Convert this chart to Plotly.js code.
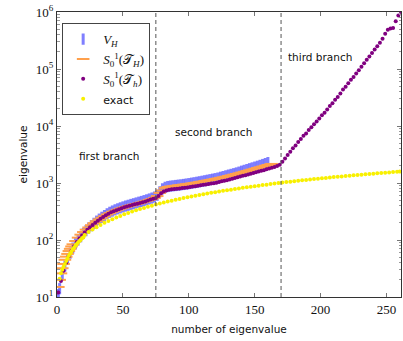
<!DOCTYPE html>
<html>
<head>
<meta charset="utf-8">
<script src="https://cdn.plot.ly/plotly-3.0.1.min.js"></script>
<style>
  html, body { margin: 0; padding: 0; background: #fff; }
  #plot { width: 403px; height: 341px; }
</style>
</head>
<body>
<div id="plot"></div>
<script>
// V_H (blue bars)
const vhN = [1,2,4,6,8,10,12,14,16,18,20,22,24,26,28,30,32,34,36,38,40,42,44,46,48,50,52,54,56,58,60,
  62,64,66,68,70,72,74,76,78,80,82,84,86,88,90,92,94,96,98,100,102,104,106,108,110,112,114,116,118,120,
  122,124,126,128,130,132,134,136,138,140,142,144,146,148,150,152,154,156,158,160];
const vhVal = [11,14,24,35,47,59,72,86,100,114,130,146,162,178,196,214,232,250,268,288,306,
  322,338,352,366,380,394,406,420,432,446,460,474,490,506,524,544,566,610,700,790,
  840,866,880,892,904,916,928,942,958,974,992,1010,1030,1050,1072,1094,1118,1142,1166,1192,
  1220,1260,1295,1335,1375,1415,1455,1500,1550,1610,1665,1720,1780,1840,1900,1965,2035,2110,2190,2280];

// S_0^1(T_H) (orange bars)
const sHN = [1,2,3,4,5,6,7,8,9,10,11,12,14,16,18,20,22,24,26,28,30,32,34,36,38,40,42,44,46,48,50,52,
  54,56,58,60,62,64,66,68,70,72,74,76,78,80,82,84,86,88,90,92,94,96,98,100,102,104,106,108,110,112,
  114,116,118,120,122,124,126,128,130,132,134,136,138,140,142,144,146,148,150,152,154,156,158,160,162,163];
const sHVal = [15,20,26,32,38,45,51,57,64,70,77,84,96,110,124,138,152,166,182,198,214,230,246,262,280,296,312,326,340,354,368,380,
  392,404,416,428,440,454,470,488,506,526,548,590,670,740,820,850,868,882,895,908,922,936,950,966,982,1000,1018,1038,1058,1080,
  1102,1126,1150,1176,1202,1230,1260,1292,1326,1362,1400,1440,1482,1526,1572,1620,1670,1722,1776,1832,1890,1950,2012,2075,2130,2160];

// S_0^1(T_h) (purple dots)
const shN = [1,3,5,7,9,11,13,15,17,19,21,23,25,27,29,31,33,35,37,39,41,43,45,47,49,51,53,55,57,59,
  61,63,65,67,69,71,73,75,77,79,81,83,85,87,89,91,93,95,97,99,101,103,105,107,109,111,113,115,117,119,
  121,123,125,127,129,131,133,135,137,139,141,143,145,147,149,151,153,155,157,159,161,163,165,167,169,
  171,173,175,177,179,181,183,185,187,189,191,193,195,197,199,201,203,205,207,209,211,213,215,217,219,
  221,223,225,227,229,231,233,235,237,239,241,243,245,247,249,251,253,255,257,259,261];
const shVal = [12,19,29,40,52,64,78,92,106,120,136,152,168,184,200,218,236,254,272,290,
  306,320,334,348,362,374,386,398,410,422,434,446,460,476,494,512,530,548,590,660,
  708,740,760,774,785,795,804,813,822,836,851,866,881,896,912,928,944,960,977,994,
  1012,1042,1072,1097,1122,1155,1189,1224,1259,1296,1334,1372,1413,1454,1496,1540,1585,1632,1679,1738,
  1799,1850,1905,1995,2089,2350,2690,3090,3550,4070,4570,5250,5890,6760,7410,8510,9550,10700,12000,13500,
  15500,17000,19500,22400,25100,28800,32400,37200,43700,49000,56200,64600,72400,83200,95500,110000,126000,145000,166000,191000,
  219000,251000,288000,339000,417000,490000,515000,525000,690000,870000,1000000];

// exact (yellow dots)
const exactN = [2,3,4,5,6,7,8,9,10,11,12,13,14,15,16,17,18,19,20,21,24,27,30,33,36,39,42,45,48,51,54,57,60,
  63,66,69,72,75,78,81,84,87,90,93,96,99,102,105,108,111,114,117,120,123,126,129,132,135,138,141,144,147,150,
  153,156,159,162,165,168,171,174,177,180,183,186,189,192,195,198,201,204,207,210,213,216,219,222,225,228,
  231,234,237,240,243,246,249,252,255,258,260];
const exactVal = [21,26,30,34,38,43,48,53,58,63,69,74,80,85,90,96,101,107,112,122,138,153,168,184,200,216,232,248,264,282,298,316,332,
  350,366,384,400,418,436,454,472,490,508,526,544,562,580,598,616,636,654,672,690,708,728,746,764,784,802,822,840,860,878,
  898,918,936,956,976,996,1016,1036,1056,1076,1096,1116,1134,1154,1172,1192,1210,1230,1248,1268,1286,1306,1324,1344,1362,1382,
  1400,1420,1438,1458,1476,1496,1514,1534,1552,1572,1584];

const branchEdges = [75, 170];
const branchNames = ['first branch', 'second branch', 'third branch'];
const branchLabelX = [39.5, 119, 199.5];
const branchLabelY = [3.47, 3.90, 5.21]; // log10 position

const decades = [1, 2, 3, 4, 5, 6];

const serif = 'Liberation Serif, DejaVu Serif, serif';
const sans = 'DejaVu Sans, sans-serif';

// minor ticks 2..9 of each decade
let minorVals = [];
for (let d = 1; d < 6; d++) {
  for (let k = 2; k <= 9; k++) minorVals.push(k * Math.pow(10, d));
}

const traces = [
  {
    x: vhN, y: vhVal, type: 'scatter', mode: 'markers',
    name: '<i>V</i><sub><i>H</i></sub>',
    marker: { symbol: 'line-ns', size: 8, line: { width: 3, color: 'rgba(95,95,255,0.8)' } }
  },
  {
    x: sHN, y: sHVal, type: 'scatter', mode: 'markers',
    name: '<i>S</i><sub>0</sub><sup>1</sup>(𝒯<sub><i>H</i></sub>)',
    marker: { symbol: 'line-ew', size: 9, line: { width: 2, color: '#ffa04c' } }
  },
  {
    x: shN, y: shVal, type: 'scatter', mode: 'markers',
    name: '<i>S</i><sub>0</sub><sup>1</sup>(𝒯<sub><i>h</i></sub>)',
    marker: { symbol: 'circle', size: 4, color: '#800080' }
  },
  {
    x: exactN, y: exactVal, type: 'scatter', mode: 'markers',
    name: '<span style="font-family:DejaVu Sans;font-size:11px">exact</span>',
    marker: { symbol: 'circle', size: 4, color: '#f8f000' }
  }
];

const shapes = branchEdges.map(function (b) {
  return {
    type: 'line', xref: 'x', yref: 'paper', x0: b, x1: b, y0: 0, y1: 1,
    line: { color: '#555', width: 1, dash: '4px,3px' }
  };
});

const annotations = branchNames.map(function (t, i) {
  return {
    text: t, x: branchLabelX[i], y: branchLabelY[i], xref: 'x', yref: 'y',
    showarrow: false, font: { family: sans, size: 10.5, color: '#111' }
  };
});

const layout = {
  width: 403, height: 341,
  margin: { l: 57, r: 2, t: 12, b: 44 },
  paper_bgcolor: '#fff', plot_bgcolor: '#fff',
  showlegend: true,
  legend: {
    x: 0.015, y: 0.961, xanchor: 'left', yanchor: 'top',
    bgcolor: '#fff', bordercolor: '#444', borderwidth: 1,
    font: { family: serif, size: 13, color: '#111' },
    itemwidth: 30, tracegroupgap: 0
  },
  xaxis: {
    range: [0, 261], showgrid: false, zeroline: false,
    showline: true, linecolor: '#333', linewidth: 1, mirror: 'ticks',
    ticks: 'inside', ticklen: 4, tickcolor: '#777',
    tickvals: [0, 50, 100, 150, 200, 250],
    tickfont: { family: serif, size: 13, color: '#111' },
    title: { text: 'number of eigenvalue', font: { family: sans, size: 10.5, color: '#111' }, standoff: 10 }
  },
  yaxis: {
    type: 'log', range: [1, 6], showgrid: false, zeroline: false,
    showline: true, linecolor: '#333', linewidth: 1, mirror: 'ticks',
    ticks: 'inside', ticklen: 4, tickcolor: '#777',
    tickmode: 'array',
    tickvals: decades.map(function (d) { return Math.pow(10, d); }),
    ticktext: decades.map(function (d) { return '10<sup>' + d + '</sup>'; }),
    tickfont: { family: serif, size: 13, color: '#111' },
    minor: { tickmode: 'array', tickvals: minorVals, ticks: 'inside', ticklen: 2.5, tickcolor: '#999', showgrid: false },
    title: { text: 'eigenvalue', font: { family: sans, size: 10.5, color: '#111' }, standoff: 6 }
  },
  shapes: shapes,
  annotations: annotations
};

Plotly.newPlot('plot', traces, layout, { staticPlot: true, displayModeBar: false });
</script>
</body>
</html>
